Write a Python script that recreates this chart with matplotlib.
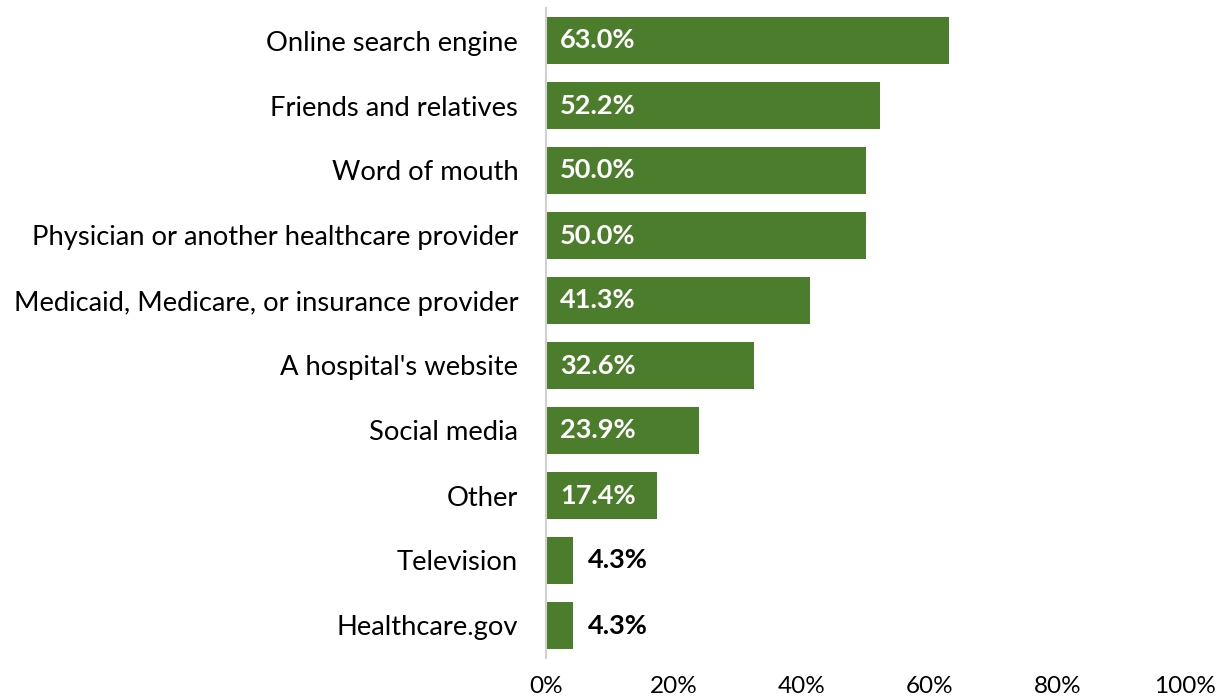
import matplotlib.pyplot as plt
from matplotlib.ticker import PercentFormatter

plt.rcParams['font.family'] = ['Lato', 'DejaVu Sans']

sources = ['Online search engine', 'Friends and relatives', 'Word of mouth',
           'Physician or another healthcare provider',
           'Medicaid, Medicare, or insurance provider', "A hospital's website",
           'Social media', 'Other', 'Television', 'Healthcare.gov']
shares = [63.0, 52.2, 50.0, 50.0, 41.3, 32.6, 23.9, 17.4, 4.3, 4.3]
ticks = [0, 20, 40, 60, 80, 100]

green = '#4C7D2C'

fig = plt.figure(figsize=(12.17, 6.98), dpi=100)
ax = fig.add_axes([546 / 1217, 1 - 658 / 698, (1185 - 546) / 1217, 650 / 698])

pos = list(range(len(sources)))
ax.barh(pos, shares, height=0.71, color=green)

for y, v in zip(pos, shares):
    if v > 10:
        ax.text(2.2, y, f'{v:.1f}%', color='white', fontsize=19.5, fontweight='bold',
                va='center', ha='left')
    else:
        ax.text(v + 2.2, y, f'{v:.1f}%', color='black', fontsize=19.5, fontweight='bold',
                va='center', ha='left')

ax.set_xlim(0, 100)
ax.set_ylim(len(sources) - 0.5, -0.5)
ax.set_yticks(pos)
ax.set_yticklabels(sources, fontsize=19.7)
ax.set_xticks(ticks)
ax.xaxis.set_major_formatter(PercentFormatter(decimals=0))
ax.tick_params(axis='x', length=0, pad=13, labelsize=17.5)
ax.tick_params(axis='y', length=0, pad=20)
for s in ['top', 'right', 'bottom']:
    ax.spines[s].set_visible(False)
ax.spines['left'].set_color('#D0D0D0')
ax.spines['left'].set_linewidth(1.5)

fig.savefig('out.png', dpi=100)
